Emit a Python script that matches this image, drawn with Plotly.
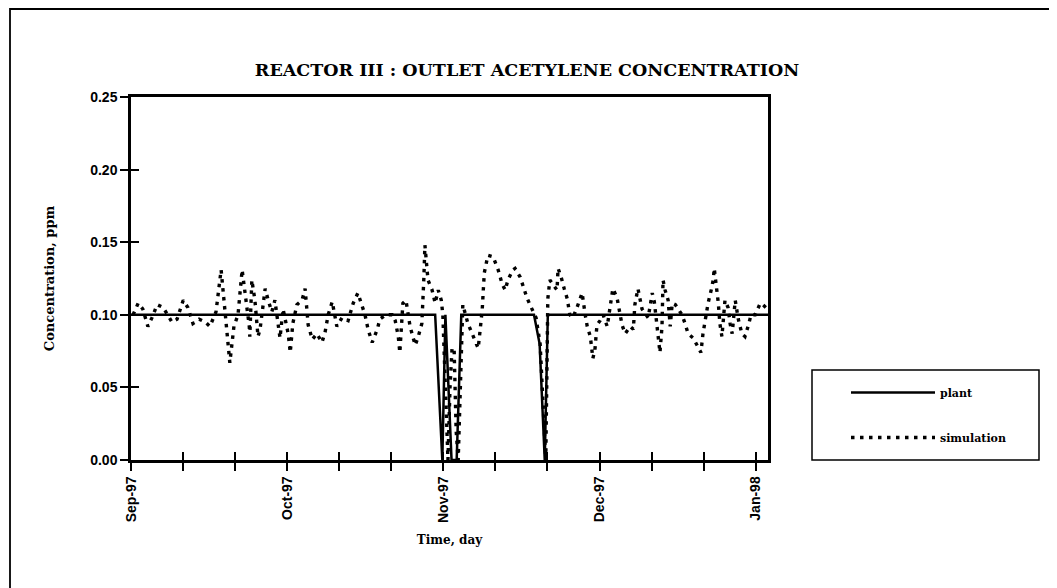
import plotly.graph_objects as go

# ---- data (days since 1-Sep-1997) ----
plant_day = [0, 59.4, 60.8, 61.4, 62.6, 63.6, 64.5, 78.7, 79.8, 80.8, 81.4, 124.4]
plant_val = [0.10, 0.10, 0.0, 0.10, 0.0, 0.0, 0.10, 0.10, 0.08, 0.0, 0.10, 0.10]

sim_day = [0.4, 1.4, 2.3, 3.3, 4.1, 5.1, 6.3, 7.2, 8.0, 9.0, 10.2, 11.1, 12.1, 13.3, 14.5,
           15.4, 16.6, 17.6, 18.2, 18.8, 19.3, 20.1, 20.9, 21.7, 22.3, 23.1, 23.2, 23.6, 24.2,
           24.8, 25.2, 26.2, 26.8, 27.5, 28.1, 28.7, 29.1, 29.7, 30.7, 31.1, 31.6, 32.4, 33.4,
           34.0, 34.6, 35.4, 36.3, 37.3, 37.9, 38.5, 39.3, 40.2, 41.2, 42.4, 43.4, 44.3, 44.9,
           45.7, 46.3, 47.1, 48.1, 48.6, 49.8, 51.0, 51.6, 52.2, 52.5, 53.1, 53.7, 54.5, 55.5,
           56.1, 56.8, 57.0, 57.2, 57.4, 57.8, 58.0, 58.8, 59.4, 60.0, 60.6,
           60.9, 61.5, 61.9, 62.3, 62.7, 63.1, 63.5, 63.9, 64.5, 64.8,
           65.8, 66.6, 67.2, 67.8, 68.2, 68.6, 68.8, 69.0, 69.7, 70.7, 71.7, 72.5, 73.1, 73.6,
           74.6, 75.0, 76.0, 76.6, 77.3, 77.9, 78.5,
           79.1, 79.9, 80.5, 81.0, 81.4, 81.8,
           82.6, 83.2, 83.4, 84.0, 84.6, 85.2, 85.7, 86.3, 87.1, 88.1, 88.7, 89.1, 89.7, 90.0,
           90.2, 90.6, 91.0, 91.6, 92.2, 93.0, 93.6, 94.1, 94.9, 95.5, 95.9, 96.5, 97.5, 98.1,
           98.4, 99.0, 99.8, 101.0, 101.8, 102.2, 102.7, 102.9, 103.3, 103.7, 103.9, 104.3,
           104.9, 105.3, 105.7, 106.3, 106.8, 107.6, 108.2, 108.8, 109.8, 110.7, 111.3, 111.7,
           112.1, 112.7, 113.3, 113.7, 113.9, 114.5, 114.7, 115.0, 115.4, 116.0, 116.6, 117.0,
           117.4, 118.0, 118.6, 119.3, 119.9, 120.5, 121.1, 121.9, 122.9, 123.4, 124.0]
sim_val = [0.100, 0.108, 0.104, 0.092, 0.098, 0.107, 0.105, 0.100, 0.095, 0.097, 0.110, 0.105, 0.094, 0.097, 0.095,
           0.092, 0.102, 0.131, 0.110, 0.090, 0.067, 0.092, 0.100, 0.131, 0.115, 0.092, 0.085, 0.124, 0.110,
           0.085, 0.090, 0.118, 0.110, 0.102, 0.110, 0.094, 0.084, 0.104, 0.087, 0.074, 0.094, 0.107, 0.110,
           0.118, 0.093, 0.083, 0.087, 0.081, 0.088, 0.100, 0.109, 0.092, 0.098, 0.096, 0.108, 0.115, 0.108,
           0.100, 0.090, 0.081, 0.090, 0.097, 0.100, 0.100, 0.096, 0.085, 0.074, 0.108, 0.110, 0.092, 0.079,
           0.085, 0.094, 0.108, 0.126, 0.148, 0.131, 0.124, 0.117, 0.108, 0.117, 0.110,
           0.100, 0.030, 0.000, 0.050, 0.077, 0.077, 0.020, 0.000, 0.080, 0.107,
           0.094, 0.087, 0.081, 0.077, 0.090, 0.104, 0.117, 0.129, 0.141, 0.140, 0.131, 0.121, 0.117, 0.124,
           0.131, 0.132, 0.126, 0.119, 0.112, 0.107, 0.103,
           0.098, 0.080, 0.040, 0.000, 0.111, 0.124,
           0.120, 0.117, 0.132, 0.126, 0.118, 0.111, 0.100, 0.098, 0.105, 0.115, 0.100, 0.092, 0.085, 0.076,
           0.070, 0.076, 0.093, 0.096, 0.100, 0.092, 0.108, 0.118, 0.112, 0.100, 0.093, 0.087, 0.092, 0.090,
           0.107, 0.118, 0.104, 0.098, 0.115, 0.109, 0.092, 0.085, 0.074, 0.092, 0.124, 0.117,
           0.110, 0.092, 0.108, 0.107, 0.104, 0.100, 0.094, 0.087, 0.084, 0.078, 0.074, 0.087,
           0.096, 0.108, 0.117, 0.124, 0.132, 0.117, 0.108, 0.094, 0.085, 0.110, 0.105, 0.094,
           0.087, 0.110, 0.097, 0.087, 0.085, 0.092, 0.100, 0.100, 0.108, 0.107, 0.105]

x_tickvals = [0, 10.17, 20.33, 30.5, 40.67, 50.83, 61, 71.17, 81.33, 91.5, 101.67, 111.83, 122]
x_ticktext = ["Sep-97", "", "", "Oct-97", "", "", "Nov-97", "", "", "Dec-97", "", "", "Jan-98"]
y_tickvals = [0.00, 0.05, 0.10, 0.15, 0.20, 0.25]

X_RANGE = [0, 124.4]
Y_RANGE = [0, 0.25]

SERIF = "DejaVu Serif"
SANS = "Liberation Sans"

# page offset of the browser (body margin) -> figure is drawn 8px right/down
OFF = 8
W, H = 1057 - OFF, 588 - OFF
PL, PR, PT, PB = 131, 768, 97, 460   # plot area in window pixels


def px(xw):
    return (xw - PL) / (PR - PL)


def py(yw):
    return (PB - yw) / (PB - PT)


fig = go.Figure()
fig.add_trace(go.Scatter(x=plant_day, y=plant_val, mode="lines", name="plant",
                         legendgroup="a",
                         line=dict(color="black", width=2.5)))
fig.add_trace(go.Scatter(x=sim_day, y=sim_val, mode="lines", name="simulation",
                         legendgroup="b", xaxis="x2", yaxis="y2",
                         line=dict(color="black", width=3.4, dash="3.5px,5.5px")))

tick_common = dict(showgrid=False, zeroline=False, tickcolor="black", tickwidth=2, ticklen=8)

fig.update_layout(
    width=W, height=H,
    margin=dict(l=PL - OFF, r=W - (PR - OFF), t=PT - OFF, b=H - (PB - OFF)),
    paper_bgcolor="white", plot_bgcolor="white",
    title=dict(text="<b>REACTOR III : OUTLET ACETYLENE CONCENTRATION</b>",
               x=(527 - OFF) / W, xref="container", y=1 - (70 - OFF) / H, yref="container",
               xanchor="center", yanchor="middle",
               font=dict(family=SERIF, size=17.5, color="black")),
    xaxis=dict(range=X_RANGE, tickmode="array", tickvals=x_tickvals, ticktext=x_ticktext,
               ticks="outside", showline=True, mirror=True, tickangle=-90,
               linecolor="black", linewidth=2.5,
               tickfont=dict(family=SANS, size=14, color="black", weight="bold"),
               title=dict(text="<b>Time, day</b>", standoff=14,
                          font=dict(family=SERIF, size=12, color="black")),
               **tick_common),
    yaxis=dict(range=Y_RANGE, tickmode="array", tickvals=y_tickvals, tickformat=".2f",
               ticks="outside", showline=True, mirror=True,
               linecolor="black", linewidth=2.5,
               tickfont=dict(family=SANS, size=14, color="black", weight="bold"),
               title=dict(text="<b>Concentration, ppm</b>", standoff=33,
                          font=dict(family=SERIF, size=13, color="black")),
               **tick_common),
    xaxis2=dict(range=X_RANGE, overlaying="x", anchor="y2", side="bottom",
                tickmode="array", tickvals=x_tickvals, ticks="inside",
                showticklabels=False, showline=False, **tick_common),
    yaxis2=dict(range=Y_RANGE, overlaying="y", anchor="x2", side="left",
                tickmode="array", tickvals=y_tickvals, ticks="inside",
                showticklabels=False, showline=False, **tick_common),
    legend=dict(x=px(846), y=py(378), xanchor="left", yanchor="top",
                bgcolor="rgba(0,0,0,0)", borderwidth=0, itemwidth=84,
                tracegroupgap=26, traceorder="grouped",
                font=dict(family=SERIF, size=11, color="black", weight="bold")),
    showlegend=True,
)

# legend frame and outer page frame
fig.add_shape(type="rect", xref="paper", yref="paper",
              x0=px(812), x1=px(1039), y0=py(460), y1=py(370),
              line=dict(color="black", width=1.5))
fig.add_shape(type="rect", xref="paper", yref="paper",
              x0=px(10), x1=px(1051), y0=py(640), y1=py(9),
              line=dict(color="black", width=1.8))

fig.write_html("out.html")
